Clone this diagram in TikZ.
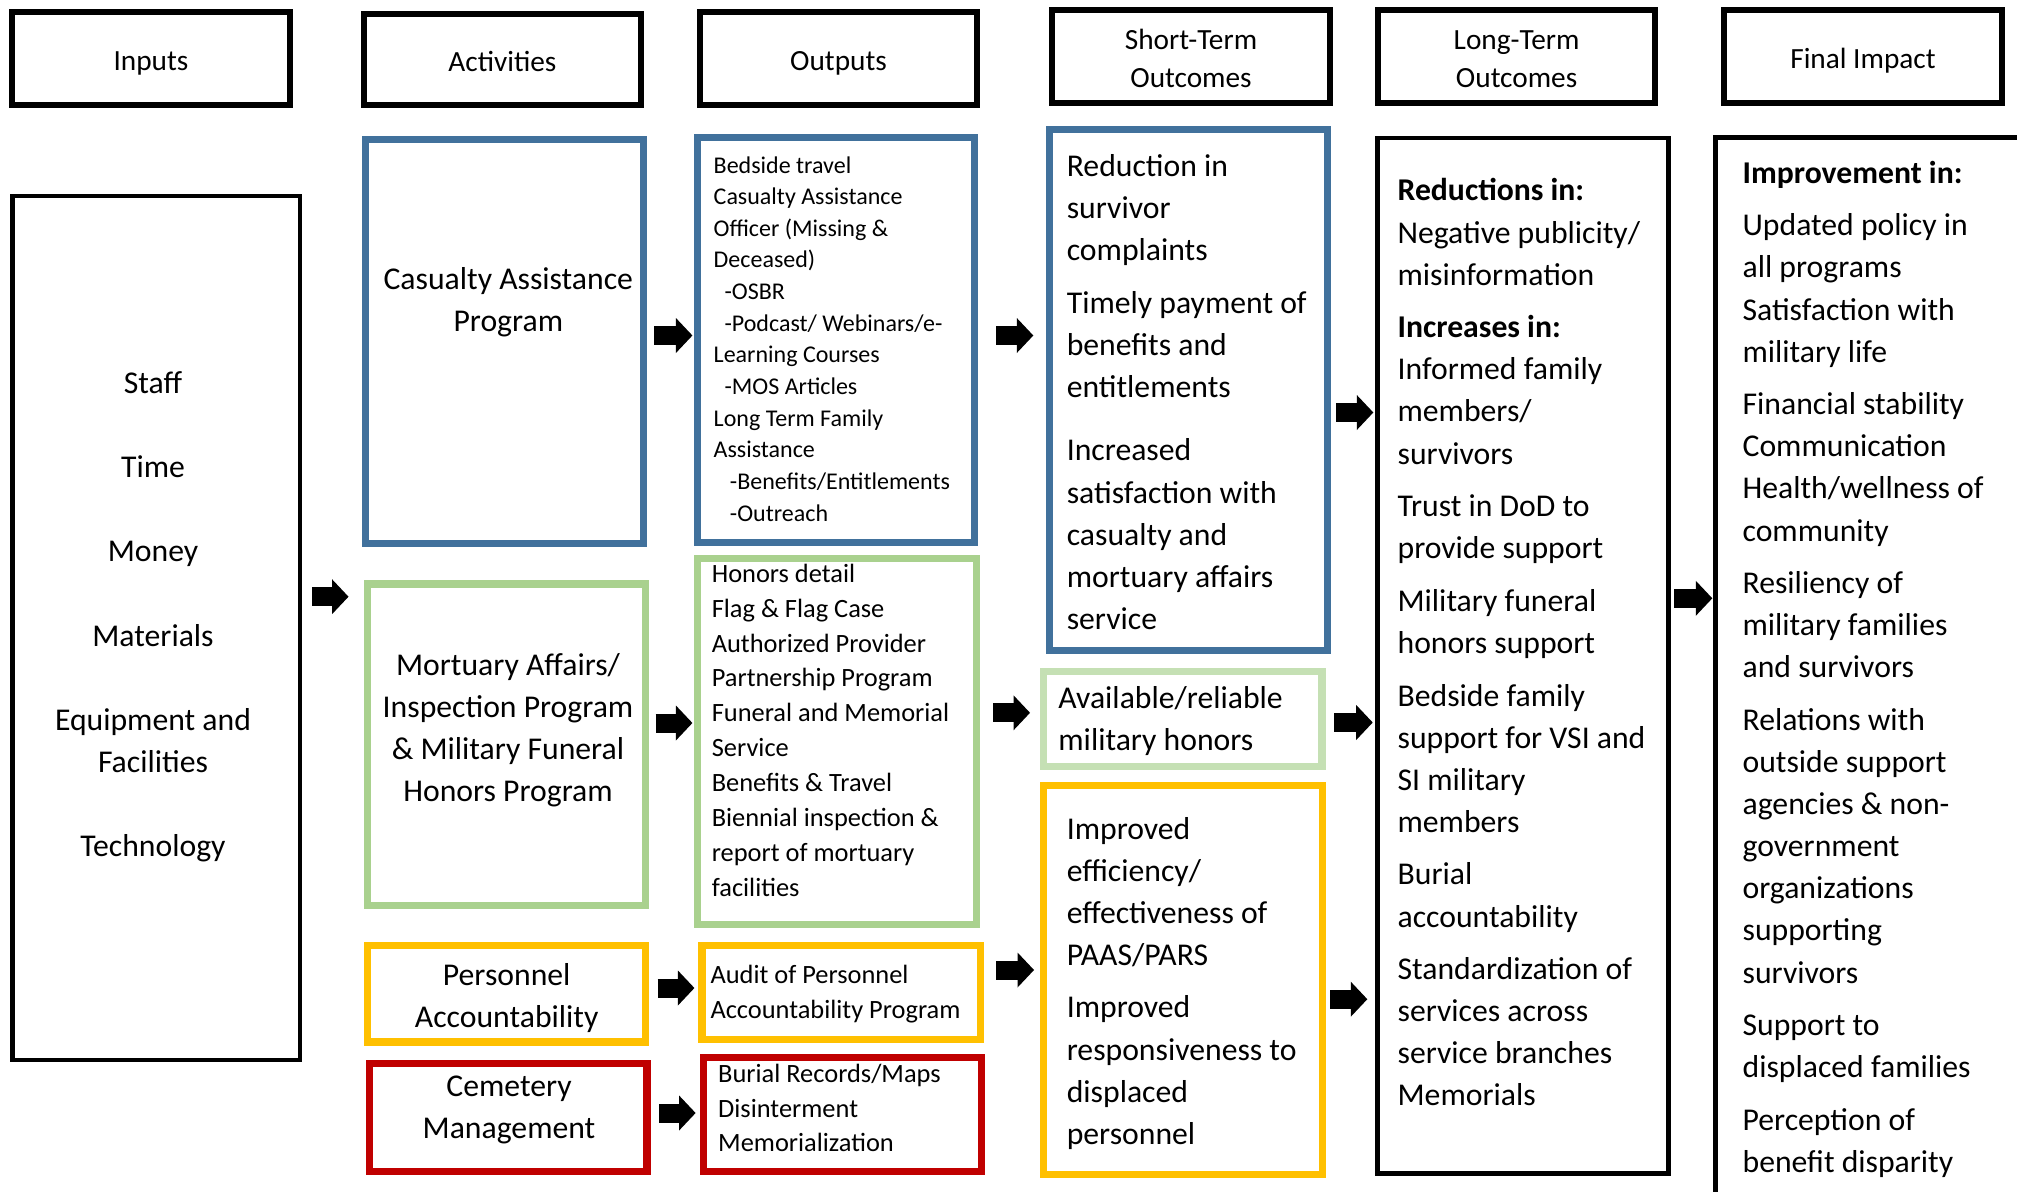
\documentclass[tikz,border=0pt]{standalone}
\usepackage{fontspec}
\setmainfont{Carlito}
\usetikzlibrary{arrows.meta}
\definecolor{cblue}{HTML}{41719C}
\definecolor{cgreen}{HTML}{A9D18E}
\definecolor{clgreen}{HTML}{C5E0B4}
\definecolor{cyellow}{HTML}{FFC000}
\definecolor{cred}{HTML}{C00000}
\newcommand{\fL}{\fontsize{31.7pt}{42.1pt}\selectfont}
\newcommand{\fM}{\fontsize{26.4pt}{34.9pt}\selectfont}
\newcommand{\fS}{\fontsize{24pt}{31.65pt}\selectfont}
\newcommand{\fHd}{\fontsize{29.3pt}{38.2pt}\selectfont}
\newcommand{\LB}[1]{\begin{tabular}[t]{@{}l@{}}#1\end{tabular}}
\newcommand{\CB}[1]{\begin{tabular}[t]{@{}c@{}}#1\end{tabular}}
\tikzset{
  bx/.style={draw, inner sep=0pt, outer sep=0pt},
  hbox/.style={bx, line width=6pt},
  kbox/.style={bx, line width=4.7pt},
  cbox/.style={bx, line width=7.3pt, draw=#1},
  ltxt/.style={inner sep=0pt, outer sep=0pt, anchor=base west},
  ctxt/.style={inner sep=0pt, outer sep=0pt, anchor=base},
  barrow/.style={line width=19pt, -{Triangle[length=16.5pt,width=35pt,line width=0pt]}},
}
\begin{document}
\begin{tikzpicture}[x=1pt,y=-1pt]
\useasboundingbox (0,0) rectangle (2017,1191);
\fill[white] (0,0) rectangle (2017,1191);
\clip (0,0) rectangle (2017,1191);

% header boxes
\node[hbox, minimum width=277.5pt, minimum height=93.5pt] (hIn) at (150.75,58.25) {};
\node[hbox, minimum width=277.3pt, minimum height=90.8pt] (hAct) at (502.35,59.8) {};
\node[hbox, minimum width=277pt, minimum height=93.6pt] (hOut) at (838.5,58.4) {};
\node[hbox, minimum width=277.4pt, minimum height=93.4pt] (hST) at (1191,56.7) {};
\node[hbox, minimum width=277.4pt, minimum height=93.4pt] (hLT) at (1516.6,56.7) {};
\node[hbox, minimum width=277.8pt, minimum height=93.4pt] (hFI) at (1863.1,56.7) {};

\node[ctxt, font=\fHd] (hInT) at (151,70) {Inputs};
\node[ctxt, font=\fHd] (hActT) at (502.4,71.5) {Activities};
\node[ctxt, font=\fHd] (hOutT) at (838.5,70) {Outputs};
\node[ctxt, font=\fHd] (hSTT) at (1191,49.5) {\CB{Short-Term\\Outcomes}};
\node[ctxt, font=\fHd] (hLTT) at (1516.6,49.5) {\CB{Long-Term\\Outcomes}};
\node[ctxt, font=\fHd] (hFIT) at (1863,68) {Final Impact};

% black column boxes
\node[kbox, minimum width=287.4pt, minimum height=864pt] (inBox) at (156.3,628) {};
\node[kbox, minimum width=290.8pt, minimum height=1035.5pt] (lt) at (1522.9,655.75) {};
\node[kbox, minimum width=324.5pt, minimum height=1082.8pt] (fi) at (1877.75,678.6) {};

% coloured boxes
\node[cbox=cblue, minimum width=277.9pt, minimum height=403.9pt] (cap) at (504.65,341.65) {};
\node[cbox=cblue, minimum width=277.1pt, minimum height=405pt] (capO) at (835.95,340.2) {};
\node[cbox=cgreen, minimum width=277.9pt, minimum height=321.8pt] (mort) at (506.65,744.9) {};
\node[cbox=cgreen, minimum width=278.9pt, minimum height=366.3pt] (mortO) at (836.85,741.35) {};
\node[cbox=cyellow, minimum width=277.9pt, minimum height=96.4pt] (pers) at (506.65,993.8) {};
\node[cbox=cyellow, minimum width=278.4pt, minimum height=93.9pt] (persO) at (841.1,992.55) {};
\node[cbox=cred, minimum width=277.4pt, minimum height=108pt] (cem) at (508.3,1117.5) {};
\node[cbox=cred, minimum width=278.1pt, minimum height=113.8pt] (cemO) at (842.75,1114.6) {};
\node[cbox=cblue, minimum width=278.5pt, minimum height=520.5pt] (stB) at (1188.55,389.95) {};
\node[cbox=clgreen, minimum width=278.3pt, minimum height=95pt] (stG) at (1182.85,719.2) {};
\node[cbox=cyellow, minimum width=278.5pt, minimum height=389.1pt] (stY) at (1182.95,980.25) {};

% texts
\node[ctxt, font=\fL] (inT) at (153,393.5) {\CB{Staff\\[42.1pt]Time\\[42.1pt]Money\\[42.1pt]Materials\\[42.1pt]Equipment and\\Facilities\\[42.1pt]Technology}};
\node[ctxt, font=\fL] (capT) at (508.3,289.5) {\CB{Casualty Assistance\\Program}};
\node[ltxt, font=\fS] (capOT) at (713.7,173) {\LB{Bedside travel\\Casualty Assistance\\Officer (Missing \&\\Deceased)\\~~-OSBR\\~~-Podcast/ Webinars/e-\\Learning Courses\\~~-MOS Articles\\Long Term Family\\Assistance\\~~~-Benefits/Entitlements\\~~~-Outreach}};
\node[ctxt, font=\fL] (mortT) at (508,675.5) {\CB{Mortuary Affairs/\\Inspection Program\\\& Military Funeral\\Honors Program}};
\node[ltxt, font=\fM] (mortOT) at (711.8,582.2) {\LB{Honors detail\\Flag \& Flag Case\\Authorized Provider\\Partnership Program\\Funeral and Memorial\\Service\\Benefits \& Travel\\Biennial inspection \&\\report of mortuary\\facilities}};
\node[ctxt, font=\fL] (persT) at (506.7,985.2) {\CB{Personnel\\Accountability}};
\node[ltxt, font=\fM] (persOT) at (710.5,983.7) {\LB{Audit of Personnel\\Accountability Program}};
\node[ctxt, font=\fL] (cemT) at (509,1096.8) {\CB{Cemetery\\Management}};
\node[ltxt, font=\fM] (cemOT) at (718.2,1082.1) {\LB{Burial Records/Maps\\Disinterment\\Memorialization}};
\node[ltxt, font=\fL] (stBT) at (1066.8,176.5) {\LB{Reduction in\\survivor\\complaints\\[10.5pt]Timely payment of\\benefits and\\entitlements\\[21.3pt]Increased\\satisfaction with\\casualty and\\mortuary affairs\\service}};
\node[ltxt, font=\fL] (stGT) at (1058.4,708) {\LB{Available/reliable\\military honors}};
\node[ltxt, font=\fL] (stYT) at (1066.8,839) {\LB{Improved\\efficiency/\\effectiveness of\\PAAS/PARS\\[10.5pt]Improved\\responsiveness to\\displaced\\personnel}};
\node[ltxt, font=\fL] (ltT) at (1397.6,200.9) {\LB{\textbf{Reductions in:}\\Negative publicity/\\misinformation\\[10.5pt]\textbf{Increases in:}\\Informed family\\members/\\survivors\\[10.5pt]Trust in DoD to\\provide support\\[10.5pt]Military funeral\\honors support\\[10.5pt]Bedside family\\support for VSI and\\SI military\\members\\[10.5pt]Burial\\accountability\\[10.5pt]Standardization of\\services across\\service branches\\Memorials}};
\node[ltxt, font=\fL] (fiT) at (1742.6,183.2) {\LB{\textbf{Improvement in:}\\[10.5pt]Updated policy in\\all programs\\Satisfaction with\\military life\\[10.5pt]Financial stability\\Communication\\Health/wellness of\\community\\[10.5pt]Resiliency of\\military families\\and survivors\\[10.5pt]Relations with\\outside support\\agencies \& non-\\government\\organizations\\supporting\\survivors\\[10.5pt]Support to\\displaced families\\[10.5pt]Perception of\\benefit disparity}};

% block arrows
\draw[barrow, shorten <=12.4pt, shorten >=19.2pt] (inBox.east |- 0,596.7) -- (mort.west |- 0,596.7);
\draw[barrow, shorten <=10.8pt, shorten >=5pt] (cap.east |- 0,335.5) -- (capO.west |- 0,335.5);
\draw[barrow, shorten <=10.1pt, shorten >=5pt] (mort.east |- 0,723) -- (mortO.west |- 0,723);
\draw[barrow, shorten <=12pt, shorten >=7.5pt] (pers.east |- 0,988) -- (persO.west |- 0,988);
\draw[barrow, shorten <=12pt, shorten >=8.1pt] (cem.east |- 0,1113) -- (cemO.west |- 0,1113);
\draw[barrow, shorten <=21.5pt, shorten >=16pt] (capO.east |- 0,335.5) -- (stB.west |- 0,335.5);
\draw[barrow, shorten <=17pt, shorten >=13.7pt] (mortO.east |- 0,712.8) -- (stG.west |- 0,712.8);
\draw[barrow, shorten <=15.7pt, shorten >=9.7pt] (persO.east |- 0,970) -- (stY.west |- 0,970);
\draw[barrow, shorten <=8.2pt, shorten >=4.2pt] (stB.east |- 0,412.5) -- (lt.west |- 0,412.5);
\draw[barrow, shorten <=12pt, shorten >=4.8pt] (stG.east |- 0,722.5) -- (lt.west |- 0,722.5);
\draw[barrow, shorten <=7.8pt, shorten >=10.2pt] (stY.east |- 0,999.2) -- (lt.west |- 0,999.2);
\draw[barrow, shorten <=5.7pt, shorten >=3.2pt] (lt.east |- 0,598.3) -- (fi.west |- 0,598.3);
\end{tikzpicture}
\end{document}
